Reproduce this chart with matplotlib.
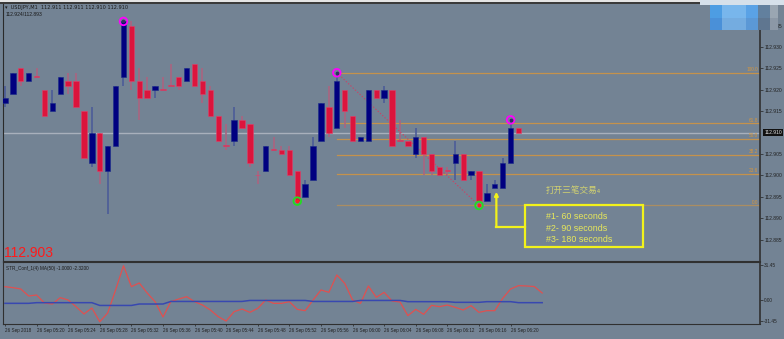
import matplotlib.pyplot as plt
import numpy as np
from matplotlib.patches import Rectangle

plt.rcParams['font.family'] = ['Liberation Sans', 'DejaVu Sans']

BG = '#738394'
BULL = '#000080'
BEAR = '#dc143c'
FIB = '#d9963a'
YEL = '#f2f21a'

# one-minute candles, 26 Sep 05:16 .. 06:21
opens = [112.917, 112.919, 112.925, 112.922, 112.923, 112.920, 112.915, 112.919, 112.922, 112.922,
         112.915, 112.903, 112.910, 112.901, 112.907, 112.923, 112.935, 112.922, 112.920, 112.920,
         112.920, 112.921, 112.923, 112.922, 112.926, 112.922, 112.920, 112.914, 112.907, 112.908,
         112.913, 112.912, 112.900, 112.901, 112.906, 112.906, 112.906, 112.901, 112.895, 112.899,
         112.908, 112.916, 112.911, 112.920, 112.914, 112.908, 112.908, 112.920, 112.918, 112.920,
         112.908, 112.908, 112.905, 112.909, 112.905, 112.902, 112.901, 112.903, 112.905, 112.900,
         112.901, 112.894, 112.897, 112.897, 112.903, 112.911]
highs = [112.921, 112.924, 112.925, 112.924, 112.925, 112.920, 112.920, 112.923, 112.924, 112.924,
         112.915, 112.916, 112.910, 112.907, 112.921, 112.936, 112.936, 112.925, 112.923, 112.921,
         112.923, 112.926, 112.923, 112.925, 112.926, 112.925, 112.921, 112.914, 112.912, 112.916,
         112.914, 112.912, 112.901, 112.907, 112.909, 112.907, 112.907, 112.901, 112.899, 112.909,
         112.917, 112.921, 112.924, 112.920, 112.914, 112.909, 112.920, 112.920, 112.921, 112.920,
         112.913, 112.908, 112.911, 112.909, 112.905, 112.902, 112.902, 112.908, 112.905, 112.901,
         112.901, 112.898, 112.899, 112.904, 112.913, 112.911]
lows = [112.916, 112.919, 112.921, 112.922, 112.923, 112.914, 112.915, 112.919, 112.919, 112.916,
        112.904, 112.902, 112.898, 112.891, 112.907, 112.921, 112.920, 112.913, 112.918, 112.918,
        112.920, 112.921, 112.920, 112.922, 112.921, 112.917, 112.914, 112.908, 112.906, 112.907,
        112.911, 112.902, 112.898, 112.901, 112.906, 112.905, 112.900, 112.894, 112.895, 112.899,
        112.908, 112.909, 112.911, 112.911, 112.908, 112.908, 112.908, 112.918, 112.917, 112.907,
        112.908, 112.907, 112.904, 112.900, 112.900, 112.900, 112.900, 112.899, 112.899, 112.899,
        112.893, 112.894, 112.897, 112.897, 112.903, 112.910]
closes = [112.918, 112.924, 112.922, 112.924, 112.923, 112.914, 112.917, 112.923, 112.921, 112.916,
          112.904, 112.910, 112.901, 112.907, 112.921, 112.936, 112.922, 112.918, 112.918, 112.921,
          112.920, 112.921, 112.921, 112.925, 112.921, 112.919, 112.914, 112.908, 112.907, 112.913,
          112.911, 112.903, 112.900, 112.907, 112.906, 112.905, 112.900, 112.894, 112.898, 112.907,
          112.917, 112.910, 112.922, 112.915, 112.908, 112.909, 112.920, 112.918, 112.920, 112.907,
          112.908, 112.907, 112.909, 112.905, 112.901, 112.900, 112.901, 112.905, 112.899, 112.901,
          112.894, 112.896, 112.898, 112.903, 112.911, 112.910]

# oscillator sub-window
osc = [12.0, 11.1, 9.9, 3.6, 4.5, -2.7, -3.6, 2.1, 0.0, -6.0, -12.6, -7.2, -19.5, -11.7, 9.0,
       30.8, 12.0, 15.3, 6.3, -1.5, -15.3, -1.5, 0.9, 3.0, -1.5, -4.5, -9.0, -15.0, -18.9, -10.5,
       -8.1, -11.1, -7.5, 0.0, -3.0, -3.0, -1.5, -8.4, -9.6, 0.0, 9.0, 6.9, 22.5, 15.0, 0.0,
       -3.0, 12.6, 2.4, 6.9, -0.9, -1.8, -14.1, -8.4, -12.9, -4.8, -6.0, -4.5, -6.6, -9.0, -5.1,
       -11.1, -9.6, -9.6, 1.5, 9.9, 12.9, 12.6, 12.1, 6.3]
osc_ma = [-3.0, -3.0, -3.0, -3.0, -2.4, -2.4, -2.4, -2.4, -2.4, -2.4, -2.4, -2.4, -4.9, -4.9, -4.9,
          -4.9, -4.9, -3.6, -3.6, -3.6, -3.6, -1.3, -1.3, -1.3, -1.3, -1.3, -1.3, -1.3, -1.3, -1.3,
          -1.3, -0.4, -0.4, -0.4, -0.4, -0.4, -0.4, -0.4, -0.4, -1.3, -1.3, -1.3, -1.3, -1.3, -1.3,
          -0.4, -0.4, -0.4, -0.4, -0.4, -0.4, -1.5, -1.5, -1.5, -1.5, -1.5, -1.5, -2.1, -2.1, -2.1,
          -2.1, -1.5, -1.5, -1.5, -1.5, -2.4, -2.4, -2.4, -2.4]

time_pos = [0, 4, 8, 12, 16, 20, 24, 28, 32, 36, 40, 44, 48, 52, 56, 60, 64]
time_labels = ['26 Sep 2018', '26 Sep 05:20', '26 Sep 05:24', '26 Sep 05:28', '26 Sep 05:32',
               '26 Sep 05:36', '26 Sep 05:40', '26 Sep 05:44', '26 Sep 05:48', '26 Sep 05:52',
               '26 Sep 05:56', '26 Sep 06:00', '26 Sep 06:04', '26 Sep 06:08', '26 Sep 06:12',
               '26 Sep 06:16', '26 Sep 06:20']
price_ticks = [112.885, 112.890, 112.895, 112.900, 112.905, 112.915, 112.920, 112.925, 112.930, 112.935]
osc_ticks = [31.45, 0.0, -18.9]
osc_tick_labels = ['31.45', '0.00', '-31.45']

fib_levels = [0.0, 23.6, 38.2, 50.0, 61.8, 100.0]
swing_highs = [15, 42, 64]
swing_lows = [37, 60]
bid = 112.910

W, H = 784, 339


def box(x0, y0, x1, y1):
    return [x0 / W, 1 - y1 / H, (x1 - x0) / W, (y1 - y0) / H]


fig = plt.figure(figsize=(W / 100, H / 100), dpi=100, facecolor=BG)
ax = fig.add_axes(box(3, 3, 760, 261), facecolor=BG)
sub = fig.add_axes(box(3, 262, 760, 324), facecolor=BG)

n = len(opens)
x = np.arange(n)
o = np.array(opens); c = np.array(closes); h = np.array(highs); l = np.array(lows)
up = c > o
body_lo = np.minimum(o, c)
body_h = np.maximum(np.abs(c - o), 0.00022)

ax.vlines(x[up], l[up], h[up], color='#4c5c98', lw=1.2, zorder=2)
ax.vlines(x[~up], l[~up], h[~up], color='#aa6480', lw=1.2, zorder=2)
ax.bar(x[up], body_h[up], 0.68, bottom=body_lo[up], color=BULL, edgecolor='#1a2a8a', lw=0.4, zorder=3)
ax.bar(x[~up], body_h[~up], 0.68, bottom=body_lo[~up], color=BEAR, edgecolor='#e0406a', lw=0.4, zorder=3)

# bid line
ax.axhline(bid, color='#a8b0bc', lw=1.0, zorder=1)

# fibo retracement between swing high 42 and swing low 60
fhi, flo = h[42], l[60]
for lv in fib_levels:
    p = flo + (fhi - flo) * lv / 100
    a = 0.55 if lv == 0.0 else 0.8
    ax.plot([42, 96], [p, p], color=FIB, lw=0.9, alpha=a, zorder=1)
    ax.text(95.3, p + 0.0002, f'{lv:.1f}', color=FIB, fontsize=3.4, ha='right', va='bottom')
ax.plot([42, 60], [fhi, flo], color='#c84466', lw=0.8, ls=(0, (1.2, 1.6)), zorder=2)

# zigzag markers
ax.scatter(x[swing_highs], h[swing_highs], s=30, facecolors='none', edgecolors='#ff00ff', lw=1.3, zorder=5)
ax.scatter(x[swing_highs], h[swing_highs], s=3, color='#303060', zorder=6)
ax.scatter(x[swing_lows], l[swing_lows], s=30, facecolors='none', edgecolors='#22dd22', lw=1.3, zorder=5)
ax.scatter(x[swing_lows], l[swing_lows], s=3, color='#ff2020', zorder=6)

# yellow note
ax.annotate('', xy=(62.2, 112.8962), xytext=(62.2, 112.8880),
            arrowprops=dict(arrowstyle='-|>', color=YEL, lw=1.6, mutation_scale=5, shrinkA=0, shrinkB=0))
ax.plot([62.2, 65.8], [112.8880, 112.8880], color=YEL, lw=1.6)
ax.add_patch(Rectangle((65.8, 112.8834), 15.0, 0.0097, fill=False, edgecolor=YEL, lw=1.6, zorder=6))
ax.text(68.5, 112.8964, '打开三笔交易₄', color='#d2d270', fontsize=6.2,
        family=['Noto Sans CJK SC', 'DejaVu Sans'], va='center')
for yy, t in zip([112.8904, 112.8877, 112.8850], ['#1- 60 seconds', '#2- 90 seconds', '#3- 180 seconds']):
    ax.text(68.5, yy, t, color='#e8e85a', fontsize=6.4, va='center')

ax.set_xlim(-0.25, 95.57)
ax.set_ylim(112.88002, 112.94030)
ax.yaxis.tick_right()
ax.set_yticks(price_ticks)
ax.set_yticklabels([f'{p:.3f}' for p in price_ticks])
ax.tick_params(axis='y', labelsize=3.6, colors='#222222', length=2, width=0.5, pad=1)
ax.set_xticks([])
ax.spines['top'].set_visible(False)
ax.spines['left'].set_color('#2a2a2a')
ax.spines['right'].set_color('#303030')
ax.spines['right'].set_linewidth(1.2)
ax.spines['bottom'].set_color('#303030')
ax.annotate('112.910', xy=(1.0, bid), xycoords=('axes fraction', 'data'), xytext=(3, 0),
            textcoords='offset points', fontsize=3.6, color='#e0e0e0', va='center',
            bbox=dict(boxstyle='square,pad=0.15', fc='#111111', ec='none'))

# oscillator
xs = np.arange(len(osc))
sub.plot(xs, osc, color='#e05050', lw=0.9)
sub.plot(xs, osc_ma, color='#3848b0', lw=1.1)
sub.set_xlim(-0.25, 95.57)
sub.set_ylim(-21.57, 34.15)
sub.yaxis.tick_right()
sub.set_yticks(osc_ticks)
sub.set_yticklabels(osc_tick_labels)
sub.tick_params(axis='y', labelsize=3.4, colors='#222222', length=2, width=0.5, pad=1)
sub.set_xticks(time_pos)
sub.set_xticklabels(time_labels)
sub.tick_params(axis='x', labelsize=3.3, colors='#222222', length=1.5, width=0.5, pad=1.5)
for lab in sub.get_xticklabels():
    lab.set_ha('left')
for s in sub.spines.values():
    s.set_color('#303030')
sub.spines['right'].set_linewidth(1.2)
sub.text(0.004, 0.93, 'STR_Conf_1(4) MA(50) -1.0000 -2.3200', transform=sub.transAxes,
         fontsize=3.3, color='#1a1a1a', va='top')

# window chrome and labels
fig.add_artist(Rectangle((0, 1 - 2.5 / H), 1, 2.5 / H, transform=fig.transFigure, color='#e4e4e4', lw=0))
fig.add_artist(Rectangle((0, 1 - 3.5 / H), 1, 1 / H, transform=fig.transFigure, color='#3a3a3a', lw=0))
fig.text(5 / W, 1 - 9.5 / H, '▾  USDJPY,M1  112.911 112.911 112.910 112.910', fontsize=3.6, color='#1a1a1a',
         family=['DejaVu Sans'])
fig.text(6 / W, 1 - 16.5 / H, '112.924/112.893', fontsize=3.6, color='#1a1a1a')
fig.text(4 / W, 1 - 257 / H, '112.903', fontsize=10, color='#ff1a1a')

# blurred badge in the corner
fig.add_artist(Rectangle((700 / W, 1 - 5 / H), 84 / W, 5 / H, transform=fig.transFigure, color='#d6e0ea', lw=0))
cols = [(710, 722), (722, 746), (746, 758), (758, 770), (770, 778)]
rows = [(5, 18, ['#4d9de3', '#78b6ec', '#5aa2e6', '#62809e', '#9aa6b2']),
        (18, 30, ['#4a90d8', '#74ace0', '#5b98d6', '#5f7690', '#8c98a6'])]
for y0, y1, cc in rows:
    for (x0, x1), col in zip(cols, cc):
        fig.add_artist(Rectangle((x0 / W, 1 - y1 / H), (x1 - x0) / W, (y1 - y0) / H,
                                 transform=fig.transFigure, color=col, lw=0))

fig.savefig('out.png', dpi=100, facecolor=BG)
